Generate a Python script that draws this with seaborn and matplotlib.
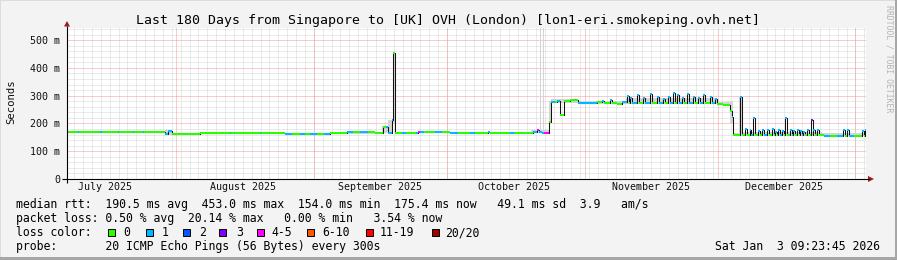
import matplotlib
matplotlib.use("Agg")
import matplotlib.pyplot as plt
import numpy as np
import pandas as pd
import seaborn as sns
from matplotlib.patches import Rectangle, Polygon

# ---------------- data ----------------
end_time = pd.Timestamp("2026-01-03 09:23:45")
span_days = 180
start_time = end_time - pd.Timedelta(days=span_days)

# median rtt step series: start day (offset from start_time), value (ms), loss bucket index
seg_day = [0.00, 2.25, 2.48, 2.70, 7.43, 7.90, 11.49, 11.80, 14.87, 15.20, 17.12, 17.40,
           21.40, 22.08, 22.75, 23.66, 29.96, 36.72, 37.00, 43.48, 43.80, 49.11, 50.60,
           52.49, 53.60, 54.74, 56.40, 57.80, 59.25, 63.08, 64.50, 66.01, 67.80, 69.39,
           71.19, 71.90, 72.31, 73.21, 73.55, 73.89, 75.50, 76.40, 78.60, 79.07, 79.60,
           80.50, 82.90, 84.40, 86.28, 88.00, 90.79, 92.00, 94.84, 95.29, 99.80, 100.80,
           104.90, 105.80, 106.40, 107.00, 107.50, 108.58, 109.03, 110.00, 110.40, 111.06,
           111.96, 113.31, 115.11, 119.30, 120.50, 121.00, 122.30, 122.80, 124.00, 125.00,
           126.15, 126.50, 126.83, 127.18, 128.41, 128.76, 129.76, 130.11, 131.34, 131.69,
           132.91, 133.26, 134.27, 134.62, 135.40, 135.75, 136.52, 136.87, 137.42, 137.77,
           138.55, 138.90, 139.68, 140.03, 141.03, 141.38, 142.15, 142.50, 143.28, 143.63,
           144.86, 145.21, 145.98, 146.33, 147.80, 149.36, 149.80, 150.03,
           151.61, 151.96, 152.74, 153.09, 153.87, 154.20, 154.54, 154.89, 155.67, 156.02,
           156.57, 156.92, 157.69, 158.04, 158.82, 159.17, 159.50, 159.85, 160.17, 160.52,
           161.07, 161.42, 161.75, 162.10, 162.88, 163.23, 163.55, 163.90, 164.45, 164.80,
           165.13, 165.48, 165.80, 166.15, 166.70, 167.05, 167.60, 167.95, 168.05, 168.40,
           168.96, 169.31, 170.50, 172.00, 173.50, 174.81, 175.16, 175.72, 176.07, 177.30,
           179.10, 179.45, 179.77]
seg_ms = [168, 171, 171, 171, 171, 171, 171, 171, 171, 171, 171, 171,
          170, 162, 174, 163, 166, 166, 166, 166, 166, 163, 163,
          163, 163, 163, 163, 163, 166, 169, 169, 169, 169, 167,
          188, 188, 164, 212, 453, 167, 166, 166, 167, 171, 168,
          168, 169, 169, 164, 164, 164, 164, 168, 164, 164, 164,
          170, 176, 170, 167, 167, 205, 279, 279, 281, 232,
          282, 286, 274, 276, 280, 272, 283, 273, 270, 276,
          298, 274, 292, 274, 302, 273, 290, 274, 306, 273,
          295, 274, 288, 273, 297, 274, 308, 273, 302, 274,
          293, 273, 306, 274, 297, 273, 292, 274, 302, 273,
          295, 274, 288, 271, 268, 245, 225, 158,
          296, 158, 180, 158, 175, 158, 218, 158, 172, 158,
          178, 158, 175, 158, 180, 158, 170, 158, 176, 158,
          174, 158, 218, 158, 178, 158, 172, 158, 176, 158,
          174, 158, 170, 158, 178, 158, 213, 158, 175, 158,
          178, 157, 156, 156, 156, 178, 156, 175, 156, 156,
          174, 156, 176]
seg_loss = [0, 0, 1, 0, 1, 0, 1, 0, 1, 0, 1, 0,
            0, 1, 1, 0, 0, 1, 0, 1, 0, 1, 0,
            1, 0, 1, 0, 1, 0, 1, 0, 1, 0, 0,
            0, 1, 1, 1, 0, 0, 1, 0, 1, 4, 1,
            0, 1, 0, 1, 0, 1, 0, 1, 0, 1, 0,
            1, 4, 1, 1, 4, 0, 1, 0, 1, 0,
            0, 0, 1, 0, 1, 0, 1, 0, 0, 1,
            1, 0, 1, 1, 1, 0, 1, 1, 1, 0,
            1, 1, 1, 0, 1, 1, 1, 0, 1, 1,
            1, 0, 1, 1, 1, 0, 1, 1, 1, 0,
            1, 1, 1, 0, 0, 0, 1, 0,
            1, 0, 1, 0, 1, 1, 1, 0, 1, 0,
            1, 1, 1, 0, 1, 0, 1, 0, 1, 1,
            1, 0, 1, 0, 1, 1, 1, 0, 1, 0,
            1, 1, 1, 0, 1, 0, 3, 1, 1, 0,
            1, 0, 1, 0, 1, 1, 0, 1, 1, 0,
            1, 0, 1]

# smoke (min/max spread) step series
smoke_day = [0.0, 22.0, 23.7, 71.0, 72.3, 73.5, 73.9, 104.5, 106.6, 106.85,
             107.3, 107.55, 108.6, 109.0, 115.1, 126.0, 146.4, 149.3, 150.0, 151.5, 152.0, 170.0]
smoke_lo = [168, 160, 162, 164, 162, 200, 164, 164, 170, 166,
            170, 166, 200, 272, 271, 271, 266, 200, 156, 156, 156, 155]
smoke_hi = [172, 176, 167, 192, 214, 458, 169, 178, 560, 178,
            560, 178, 282, 288, 280, 290, 278, 280, 166, 300, 168, 166]

loss_labels = ["0", "1", "2", "3", "4-5", "6-10", "11-19", "20/20"]
loss_colors = ["#26ff00", "#00b8ff", "#0059ff", "#7e00ff", "#ff00ff", "#ff5500", "#ff0000", "#a10000"]

y_ticks = [0, 100, 200, 300, 400, 500]
y_tick_labels = ["0", "100 m", "200 m", "300 m", "400 m", "500 m"]
y_max = 543.6

title = "Last 180 Days from Singapore to [UK] OVH (London) [lon1-eri.smokeping.ovh.net]"
stat_lines = [
    "median rtt:  190.5 ms avg  453.0 ms max  154.0 ms min  175.4 ms now   49.1 ms sd  3.9   am/s",
    "packet loss: 0.50 % avg  20.14 % max   0.00 % min   3.54 % now",
]
probe_line = "probe:       20 ICMP Echo Pings (56 Bytes) every 300s"
stamp = "Sat Jan  3 09:23:45 2026"

# ---------------- figure ----------------
sns.set_style("white")
plt.rcParams["font.family"] = ["DejaVu Sans Mono", "DejaVu Sans"]

W, H, DPI = 897, 260, 100
fig = plt.figure(figsize=(W / DPI, H / DPI), dpi=DPI, facecolor="#f3f3f3")
PX_L, PX_R, PX_T, PX_B = 67, 866, 28, 179
ax = fig.add_axes([PX_L / W, 1 - PX_B / H, (PX_R - PX_L) / W, (PX_B - PX_T) / H])
ax.set_facecolor("white")
ax.set_xlim(0, span_days)
ax.set_ylim(0, y_max)
for s in ax.spines.values():
    s.set_visible(False)

day = pd.Timedelta(days=1)
epoch0 = (start_time - pd.Timestamp("1970-01-01")) / day
first_even = np.ceil(epoch0 / 2) * 2
minor_x = np.arange(first_even, epoch0 + span_days, 2) - epoch0
month_starts = pd.date_range("2025-07-01", "2026-02-01", freq="MS")
major_x = [(m - start_time) / day for m in month_starts if start_time < m < end_time]
mid = [(m, (m + pd.Timedelta(days=15) - start_time) / day) for m in month_starts]
label_x = [p for m, p in mid if 0 <= p <= span_days]
label_txt = [m.strftime("%B %Y") for m, p in mid if 0 <= p <= span_days]

dot = (0, (1, 1))
minor_y = [v for v in range(20, int(y_max), 20) if v % 100 != 0]
gkw = dict(linestyles=dot, lw=0.72)
ax.vlines(minor_x, 0, y_max, colors="#d6d6d6", zorder=0.5, **gkw)
ax.hlines(minor_y, 0, span_days, colors="#d6d6d6", zorder=0.5, **gkw)
ax.vlines(major_x, 0, y_max, colors="#f29a9a", zorder=0.6, **gkw)
ax.hlines(y_ticks[1:], 0, span_days, colors="#f29a9a", zorder=0.6, **gkw)

# smoke
sx = smoke_day + [span_days]
ax.fill_between(sx, smoke_lo + [smoke_lo[-1]], smoke_hi + [smoke_hi[-1]], step="post",
                color="#d4d4d4", lw=0, zorder=1)

# median line: black step + coloured loss segments
df = pd.DataFrame({"day": seg_day + [span_days], "ms": seg_ms + [seg_ms[-1]]})
sns.lineplot(data=df, x="day", y="ms", ax=ax, estimator=None, sort=False,
             drawstyle="steps-post", color="#111111", lw=0.75, zorder=2, legend=False)
seg_end = seg_day[1:] + [span_days]
ax.hlines(seg_ms, seg_day, seg_end, colors=[loss_colors[i] for i in seg_loss], lw=1.45, zorder=3)

ax.set_xlabel("")
ax.set_ylabel("")
ax.set_xticks(label_x, label_txt)
ax.set_yticks(y_ticks, y_tick_labels)
ax.tick_params(axis="x", length=0, pad=2.5, labelsize=7.2, labelcolor="#111111")
ax.tick_params(axis="y", length=3, width=0.7, pad=2, direction="out", color="#444444",
               labelsize=7.2, labelcolor="#111111")

# ---------------- overlay (pixel coordinates) ----------------
ov = fig.add_axes([0, 0, 1, 1])
ov.set_xlim(0, W)
ov.set_ylim(H, 0)
ov.axis("off")
ov.set_facecolor("none")

ov.plot([62, 869], [PX_B, PX_B], color="black", lw=0.8, solid_capstyle="butt")
ov.plot([PX_L, PX_L], [183, 26], color="black", lw=0.8, solid_capstyle="butt")
arrow_c = "#a01818"
ov.add_patch(Polygon([[64, 26.5], [67, 21], [70, 26.5]], closed=True, color=arrow_c, lw=0))
ov.add_patch(Polygon([[868, 176], [874, PX_B], [868, 182]], closed=True, color=arrow_c, lw=0))

# frame
ov.add_patch(Rectangle((0, 0), W, 1, color="#dcdcdc", lw=0))
ov.add_patch(Rectangle((0, 0), 1, H, color="#dcdcdc", lw=0))
ov.add_patch(Rectangle((0, H - 3), W, 3, color="#a6a6a6", lw=0))
ov.add_patch(Rectangle((W - 2, 0), 2, H, color="#a6a6a6", lw=0))

ov.text(448.5, 24, title, ha="center", va="baseline", fontsize=9.5, color="black")
ov.text(11, 102, "Seconds", rotation=90, ha="center", va="center", fontsize=7.7, color="#111111")
ov.text(889, 5, "RRDTOOL / TOBI OETIKER", rotation=270, ha="center", va="top",
        fontsize=5.9, color="#b4b4b4")

fs = 8.3
ov.text(16, 208, stat_lines[0], ha="left", va="baseline", fontsize=fs, color="black")
ov.text(16, 222, stat_lines[1], ha="left", va="baseline", fontsize=fs, color="black")
ov.text(16, 236, "loss color:", ha="left", va="baseline", fontsize=fs, color="black")
box_x = [108, 146, 183, 219, 257, 307, 366, 432]
lab_x = [123, 162, 199, 236, 271, 322, 380, 445]
for bx, lx, c, lab in zip(box_x, lab_x, loss_colors, loss_labels):
    ov.add_patch(Rectangle((bx, 228.5), 7, 7.5, facecolor=c, edgecolor="black", lw=0.7))
    ov.text(lx, 236, lab, ha="left", va="baseline", fontsize=fs, color="black")
ov.text(16, 250, probe_line, ha="left", va="baseline", fontsize=fs, color="black")
ov.text(880, 250, stamp, ha="right", va="baseline", fontsize=fs, color="black")

fig.savefig("out.png", dpi=DPI, facecolor=fig.get_facecolor())
